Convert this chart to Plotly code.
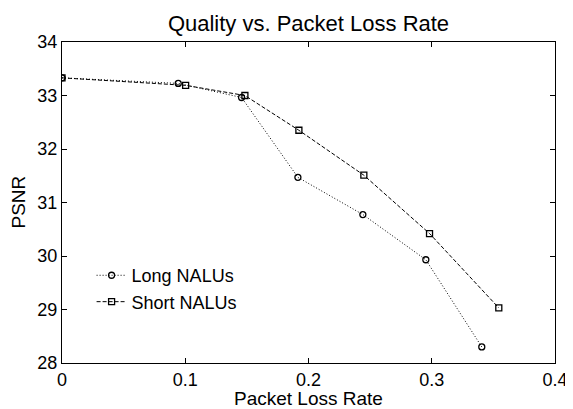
import plotly.graph_objects as go

long_x = [0.0, 0.0943, 0.1457, 0.1914, 0.2441, 0.2952, 0.3406]
long_y = [33.33, 33.226, 32.963, 31.47, 30.775, 29.93, 28.30]
short_x = [0.0, 0.1003, 0.1484, 0.1922, 0.2449, 0.2982, 0.3544]
short_y = [33.33, 33.19, 33.00, 32.35, 31.51, 30.42, 29.03]

x_ticks = [0, 0.1, 0.2, 0.3, 0.4]
y_ticks = [28, 29, 30, 31, 32, 33, 34]

FONT = "Liberation Sans, Arial, sans-serif"

fig = go.Figure()
fig.add_trace(go.Scatter(
    x=long_x, y=long_y, name="Long NALUs", mode="lines+markers",
    line=dict(color="black", width=1, dash="1px,2px"),
    marker=dict(symbol="circle-open", size=6, color="black", line=dict(width=1.3)),
))
fig.add_trace(go.Scatter(
    x=short_x, y=short_y, name="Short NALUs", mode="lines+markers",
    line=dict(color="black", width=1, dash="4px,2px"),
    marker=dict(symbol="square-open", size=6, color="black", line=dict(width=1.3)),
))

axis_common = dict(
    showline=True, linecolor="black", linewidth=1.2, mirror="ticks",
    ticks="inside", ticklen=5, tickcolor="black", tickwidth=1,
    showgrid=False, zeroline=False, automargin=False,
    tickfont=dict(family=FONT, size=18, color="black"),
)

# page body has an 8px default margin, so the figure is sized to fill the rest
fig.update_layout(
    width=565, height=401,
    margin=dict(l=54, r=18, t=34, b=46),
    paper_bgcolor="white", plot_bgcolor="white",
    font=dict(family=FONT, color="black"),
    title=dict(text="Quality vs. Packet Loss Rate", x=0.5, xanchor="center",
               xref="paper", yref="paper", y=1, yanchor="bottom", pad=dict(b=11),
               font=dict(family=FONT, size=22, color="black")),
    xaxis=dict(range=[0, 0.4], tickvals=x_ticks, ticktext=[str(v) for v in x_ticks],
               **axis_common),
    yaxis=dict(range=[28, 34], tickvals=y_ticks, **axis_common),
    legend=dict(x=0.06, y=0.33, xanchor="left", yanchor="top",
                bgcolor="rgba(0,0,0,0)", borderwidth=0,
                font=dict(family=FONT, size=18, color="black"),
                itemwidth=30, tracegroupgap=0),
    showlegend=True,
    annotations=[
        dict(text="Packet Loss Rate", xref="paper", yref="paper", x=0.5, y=-0.112,
             xanchor="center", yanchor="middle", showarrow=False,
             font=dict(family=FONT, size=19, color="black")),
        dict(text="PSNR", xref="paper", yref="paper", x=-0.0892, y=0.5, textangle=-90,
             xanchor="center", yanchor="middle", showarrow=False,
             font=dict(family=FONT, size=19, color="black")),
    ],
)

fig.write_html("out.html")
